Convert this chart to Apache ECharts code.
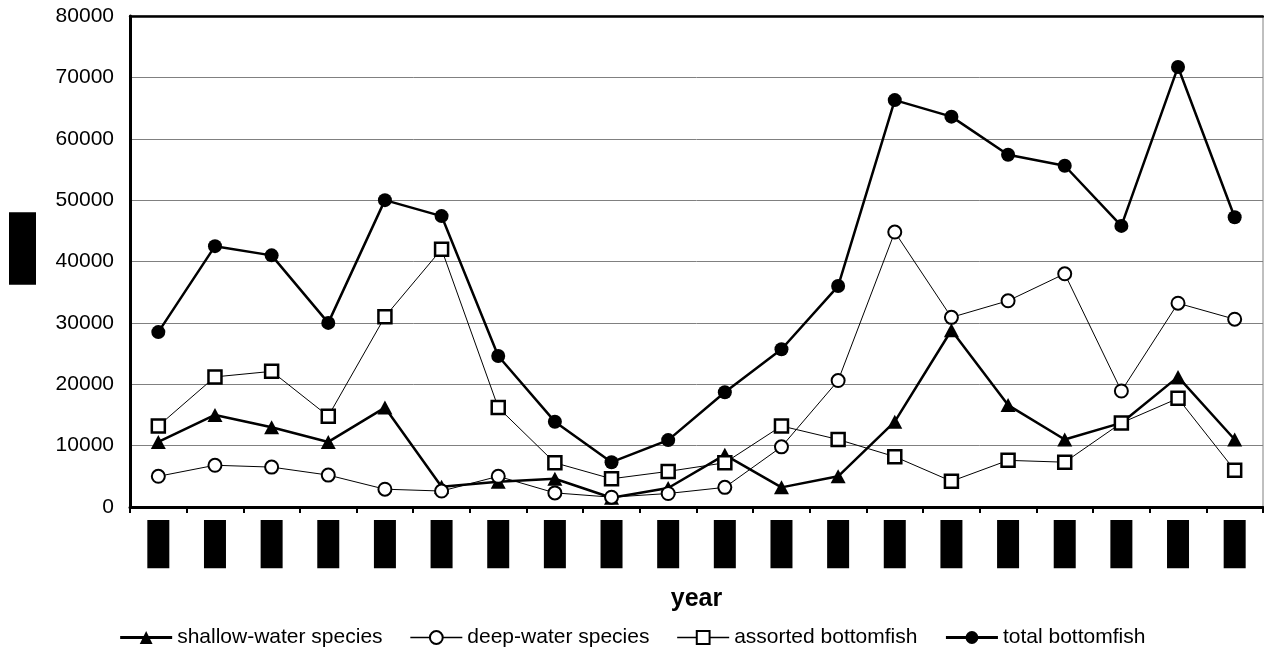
<!DOCTYPE html>
<html>
<head>
<meta charset="utf-8">
<script src="https://cdn.jsdelivr.net/npm/echarts@6/dist/echarts.min.js"></script>
<style>
html,body{margin:0;padding:0;background:#fff;}
#chart{width:1264px;height:654px;}
</style>
</head>
<body>
<div id="chart"></div>
<script>
var years = ['1986','1987','1988','1989','1990','1991','1992','1993','1994','1995','1996','1997','1998','1999','2000','2001','2002','2003','2004','2005'];
var shallowWater = [10600, 15000, 13000, 10600, 16200, 3300, 4100, 4600, 1500, 3100, 8500, 3200, 5000, 13900, 28800, 16600, 11000, 13700, 21200, 11000];
var deepWater = [5000, 6800, 6500, 5200, 2900, 2600, 5000, 2300, 1600, 2200, 3200, 9800, 20600, 44800, 30900, 33600, 38000, 18900, 33200, 30600];
var assorted = [13200, 21200, 22100, 14800, 31000, 42000, 16200, 7200, 4600, 5800, 7200, 13200, 11000, 8200, 4200, 7600, 7300, 13700, 17700, 6000];
var totalBottomfish = [28500, 42500, 41000, 30000, 50000, 47400, 24600, 13900, 7300, 10900, 18700, 25700, 36000, 66300, 63600, 57400, 55600, 45800, 71700, 47200];
var yTicks = [0, 10000, 20000, 30000, 40000, 50000, 60000, 70000, 80000];
var seriesNames = ['shallow-water species', 'deep-water species', 'assorted bottomfish', 'total bottomfish'];
var yTitle = 'pounds';

var chart = echarts.init(document.getElementById('chart'));
var font = 'Arial, "Liberation Sans", sans-serif';
chart.setOption({
  animation: false,
  backgroundColor: '#fff',
  grid: {left: 130, right: 1, top: 16, bottom: 147, show: true, borderColor: '#808080', borderWidth: 1, containLabel: false},
  graphic: [{
    type: 'text',
    x: 22.5, y: 248.5,
    rotation: Math.PI / 2,
    style: {
      text: yTitle,
      font: '16px ' + font,
      fill: '#000',
      align: 'center',
      verticalAlign: 'middle',
      lineHeight: 27,
      backgroundColor: '#000',
      padding: [0, 10, 0, 10]
    }
  }],
  legend: {
    bottom: 1,
    left: 'center',
    itemWidth: 52,
    itemHeight: 16,
    itemGap: 27,
    textStyle: {fontFamily: font, fontSize: 21, color: '#000'},
    data: [
      {name: seriesNames[0], lineStyle: {width: 3}},
      {name: seriesNames[1], lineStyle: {width: 1.5}},
      {name: seriesNames[2], lineStyle: {width: 1.5}},
      {name: seriesNames[3], lineStyle: {width: 3}}
    ]
  },
  xAxis: [{
    type: 'category',
    data: years,
    boundaryGap: true,
    name: 'year',
    nameLocation: 'middle',
    nameGap: 80,
    nameTextStyle: {fontFamily: font, fontSize: 25, fontWeight: 'bold', color: '#000'},
    axisLine: {lineStyle: {color: '#000', width: 3}},
    axisTick: {show: true, length: 6, lineStyle: {color: '#000', width: 2}},
    axisLabel: {
      rotate: 90, margin: 13, interval: 0,
      fontFamily: font, fontSize: 14, lineHeight: 22,
      color: '#000', backgroundColor: '#000', padding: [0, 8, 0, 9]
    },
    splitLine: {show: false}
  }, {
    type: 'category',
    data: years,
    position: 'top',
    axisLine: {lineStyle: {color: '#000', width: 2.5}},
    axisTick: {show: false},
    axisLabel: {show: false},
    splitLine: {show: false}
  }],
  yAxis: {
    type: 'value',
    min: yTicks[0],
    max: yTicks[yTicks.length - 1],
    interval: 10000,
    axisLine: {show: true, lineStyle: {color: '#000', width: 3}},
    axisTick: {show: false},
    axisLabel: {margin: 16, fontFamily: font, fontSize: 21, color: '#000', formatter: function (v) { return String(v); }},
    splitLine: {show: true, lineStyle: {color: '#808080', width: 1}}
  },
  series: [{
    name: seriesNames[0], type: 'line', data: shallowWater,
    symbol: 'triangle', symbolSize: [15, 14],
    lineStyle: {color: '#000', width: 2.5},
    itemStyle: {color: '#000', borderColor: '#000', borderWidth: 0}
  }, {
    name: seriesNames[1], type: 'line', data: deepWater,
    symbol: 'circle', symbolSize: 13,
    lineStyle: {color: '#000', width: 1},
    itemStyle: {color: '#fff', borderColor: '#000', borderWidth: 2}
  }, {
    name: seriesNames[2], type: 'line', data: assorted,
    symbol: 'rect', symbolSize: 13,
    lineStyle: {color: '#000', width: 1},
    itemStyle: {color: '#fff', borderColor: '#000', borderWidth: 2.5}
  }, {
    name: seriesNames[3], type: 'line', data: totalBottomfish,
    symbol: 'circle', symbolSize: 14,
    lineStyle: {color: '#000', width: 2.5},
    itemStyle: {color: '#000', borderColor: '#000', borderWidth: 0}
  }]
});
</script>
</body>
</html>
